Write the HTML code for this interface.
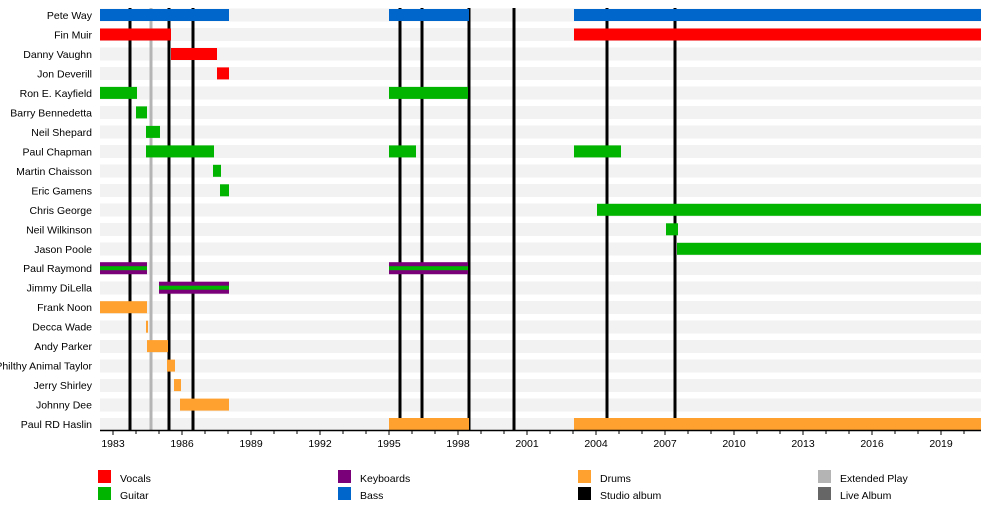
<!DOCTYPE html>
<html><head><meta charset="utf-8"><style>
html,body{margin:0;padding:0;background:#fff;}
svg{display:block;font-family:"Liberation Sans",sans-serif;}
</style></head><body>
<svg width="1000" height="508" viewBox="0 0 1000 508" xmlns="http://www.w3.org/2000/svg">
<g fill="#f2f2f2">
<rect x="100" y="8.5" width="881" height="13"/>
<rect x="100" y="28" width="881" height="13"/>
<rect x="100" y="47.5" width="881" height="13"/>
<rect x="100" y="67" width="881" height="13"/>
<rect x="100" y="86.5" width="881" height="13"/>
<rect x="100" y="106" width="881" height="13"/>
<rect x="100" y="125.5" width="881" height="13"/>
<rect x="100" y="145" width="881" height="13"/>
<rect x="100" y="164.5" width="881" height="13"/>
<rect x="100" y="184" width="881" height="13"/>
<rect x="100" y="203.5" width="881" height="13"/>
<rect x="100" y="223" width="881" height="13"/>
<rect x="100" y="242.5" width="881" height="13"/>
<rect x="100" y="262" width="881" height="13"/>
<rect x="100" y="281.5" width="881" height="13"/>
<rect x="100" y="301" width="881" height="13"/>
<rect x="100" y="320.5" width="881" height="13"/>
<rect x="100" y="340" width="881" height="13"/>
<rect x="100" y="359.5" width="881" height="13"/>
<rect x="100" y="379" width="881" height="13"/>
<rect x="100" y="398.5" width="881" height="13"/>
<rect x="100" y="418" width="881" height="13"/>
</g>
<g stroke-width="3">
<line x1="151" y1="8" x2="151" y2="430" stroke="#b4b4b4"/>
<g stroke="#000">
<line x1="130" y1="8" x2="130" y2="430"/>
<line x1="169" y1="8" x2="169" y2="430"/>
<line x1="193" y1="8" x2="193" y2="430"/>
<line x1="400" y1="8" x2="400" y2="430"/>
<line x1="422" y1="8" x2="422" y2="430"/>
<line x1="469" y1="8" x2="469" y2="430"/>
<line x1="514" y1="8" x2="514" y2="430"/>
<line x1="607" y1="8" x2="607" y2="430"/>
<line x1="675" y1="8" x2="675" y2="430"/>
</g></g>
<g fill="#0066cc">
<rect x="100" y="9" width="129" height="12"/><rect x="389" y="9" width="80" height="12"/><rect x="574" y="9" width="407" height="12"/>
</g>
<g fill="#ff0000">
<rect x="100" y="28.5" width="71" height="12"/><rect x="574" y="28.5" width="407" height="12"/>
<rect x="171" y="48" width="46" height="12"/>
<rect x="217" y="67.4" width="12" height="12"/>
</g>
<g fill="#00b400">
<rect x="100" y="86.9" width="37" height="12"/><rect x="389" y="86.9" width="79" height="12"/>
<rect x="136" y="106.4" width="11" height="12"/>
<rect x="146" y="125.9" width="14" height="12"/>
<rect x="146" y="145.4" width="68" height="12"/><rect x="389" y="145.4" width="27" height="12"/><rect x="574" y="145.4" width="47" height="12"/>
<rect x="213" y="164.8" width="8" height="12"/>
<rect x="220" y="184.3" width="9" height="12"/>
<rect x="597" y="203.8" width="384" height="12"/>
<rect x="666" y="223.3" width="12" height="12"/>
<rect x="677" y="242.8" width="304" height="12"/>
</g>
<g fill="#7a007a">
<rect x="100" y="262.2" width="47" height="12"/><rect x="389" y="262.2" width="79" height="12"/>
<rect x="159" y="281.7" width="70" height="12"/>
</g>
<g fill="#00b400">
<rect x="100" y="266.2" width="47" height="4"/><rect x="389" y="266.2" width="79" height="4"/>
<rect x="159" y="285.7" width="70" height="4"/>
</g>
<g fill="#ffa12f">
<rect x="100" y="301.2" width="47" height="12"/>
<rect x="146" y="320.7" width="2" height="12"/>
<rect x="147" y="340.1" width="21" height="12"/>
<rect x="167" y="359.6" width="8" height="12"/>
<rect x="174" y="379.1" width="7" height="12"/>
<rect x="180" y="398.6" width="49" height="12"/>
<rect x="389" y="418" width="80" height="12"/><rect x="574" y="418" width="407" height="12"/>
</g>
<g font-size="10.5" fill="#000" text-anchor="end">
<text x="92" y="19">Pete Way</text>
<text x="92" y="38.5">Fin Muir</text>
<text x="92" y="58">Danny Vaughn</text>
<text x="92" y="77.4">Jon Deverill</text>
<text x="92" y="96.9">Ron E. Kayfield</text>
<text x="92" y="116.4">Barry Bennedetta</text>
<text x="92" y="135.9">Neil Shepard</text>
<text x="92" y="155.4">Paul Chapman</text>
<text x="92" y="174.8">Martin Chaisson</text>
<text x="92" y="194.3">Eric Gamens</text>
<text x="92" y="213.8">Chris George</text>
<text x="92" y="233.3">Neil Wilkinson</text>
<text x="92" y="252.8">Jason Poole</text>
<text x="92" y="272.2">Paul Raymond</text>
<text x="92" y="291.7">Jimmy DiLella</text>
<text x="92" y="311.2">Frank Noon</text>
<text x="92" y="330.7">Decca Wade</text>
<text x="92" y="350.1">Andy Parker</text>
<text x="92" y="369.6">Philthy Animal Taylor</text>
<text x="92" y="389.1">Jerry Shirley</text>
<text x="92" y="408.6">Johnny Dee</text>
<text x="92" y="428">Paul RD Haslin</text>
</g>
<line x1="100" y1="430.5" x2="981" y2="430.5" stroke="#000" stroke-width="1.5"/>
<g stroke="#000" stroke-width="1">
<path d="M113 431v4M136 431v3M159 431v3M182 431v4M205 431v3M228 431v3M251 431v4M274 431v3M297 431v3M320 431v4M343 431v3M366 431v3M389 431v4M412 431v3M435 431v3M458 431v4M481 431v3M504 431v3M527 431v4M550 431v3M573 431v3M596 431v4M619 431v3M642 431v3M665 431v4M688 431v3M711 431v3M734 431v4M757 431v3M780 431v3M803 431v4M826 431v3M849 431v3M872 431v4M895 431v3M918 431v3M941 431v4M964 431v3"/>
</g>
<g font-size="10.5" text-anchor="middle" fill="#000">
<text x="113" y="447">1983</text><text x="182" y="447">1986</text><text x="251" y="447">1989</text><text x="320" y="447">1992</text><text x="389" y="447">1995</text><text x="458" y="447">1998</text><text x="527" y="447">2001</text><text x="596" y="447">2004</text><text x="665" y="447">2007</text><text x="734" y="447">2010</text><text x="803" y="447">2013</text><text x="872" y="447">2016</text><text x="941" y="447">2019</text>
</g>
<rect x="98" y="470" width="13" height="13" fill="#ff0000"/>
<rect x="98" y="487" width="13" height="13" fill="#00b400"/>
<rect x="338" y="470" width="13" height="13" fill="#7a007a"/>
<rect x="338" y="487" width="13" height="13" fill="#0066cc"/>
<rect x="578" y="470" width="13" height="13" fill="#ffa12f"/>
<rect x="578" y="487" width="13" height="13" fill="#000"/>
<rect x="818" y="470" width="13" height="13" fill="#b4b4b4"/>
<rect x="818" y="487" width="13" height="13" fill="#666"/>
<g font-size="10.5" fill="#000">
<text x="120" y="482">Vocals</text><text x="120" y="499">Guitar</text>
<text x="360" y="482">Keyboards</text><text x="360" y="499">Bass</text>
<text x="600" y="482">Drums</text><text x="600" y="499">Studio album</text>
<text x="840" y="482">Extended Play</text><text x="840" y="499">Live Album</text>
</g>
</svg>
</body></html>
